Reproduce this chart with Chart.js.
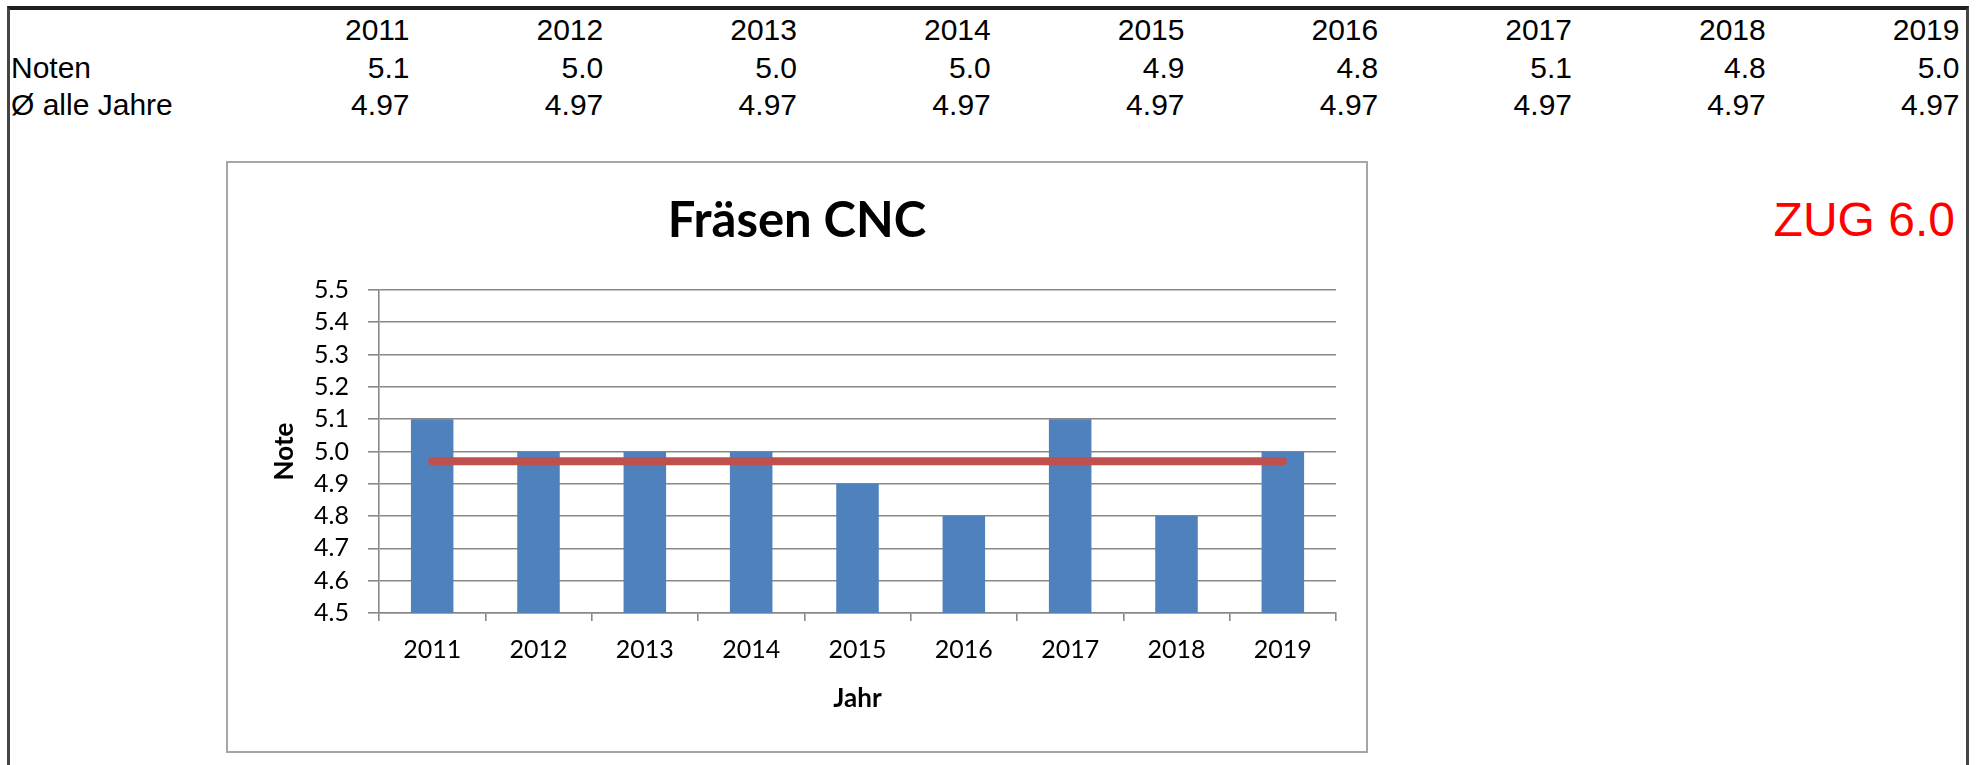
<!DOCTYPE html>
<html>
<head>
<meta charset="utf-8">
<script src="https://cdn.jsdelivr.net/npm/chart.js@4/dist/chart.umd.min.js"></script>
<style>
html,body{margin:0;padding:0;background:#fff;width:1985px;height:765px;overflow:hidden;}
#frame{position:absolute;left:7px;top:6px;width:1956px;height:800px;border-top:4px solid #1e1e1e;border-left:3px solid #444;border-right:3px solid #444;}
.t{position:absolute;font-family:"Liberation Sans",Arial,sans-serif;font-size:30px;line-height:30px;color:#000;white-space:nowrap;}
.r{text-align:right;width:150px;}
#box{position:absolute;left:226px;top:161px;width:1138px;height:588px;border:2px solid #a6a6a6;background:#fff;}
#zug{position:absolute;font-family:"Liberation Sans",Arial,sans-serif;font-size:48px;line-height:48px;color:#ff0000;white-space:nowrap;text-align:right;width:300px;left:1655px;top:196px;}
canvas{display:block;}
</style>
</head>
<body>
<div id="frame"></div>
<div id="table"></div>
<div id="zug">ZUG 6.0</div>
<div id="box"><canvas id="c" width="1138" height="588"></canvas></div>
<script>
// ---- data ----
const years = ['2011','2012','2013','2014','2015','2016','2017','2018','2019'];
const noten = [5.1, 5.0, 5.0, 5.0, 4.9, 4.8, 5.1, 4.8, 5.0];
const avgAll = [4.97, 4.97, 4.97, 4.97, 4.97, 4.97, 4.97, 4.97, 4.97];
const rowLabels = ['Noten', 'Ø alle Jahre'];
const chartTitle = 'Fräsen CNC';
const xTitle = 'Jahr';
const yTitle = 'Note';
const yMin = 4.5, yMax = 5.5, yStep = 0.1;

// ---- table above the chart ----
const table = document.getElementById('table');
function addText(txt, left, top, right) {
  const d = document.createElement('div');
  d.className = 't' + (right ? ' r' : '');
  d.textContent = txt;
  d.style.left = left + 'px';
  d.style.top = top + 'px';
  table.appendChild(d);
}
const rowTops = [15, 53, 90];
years.forEach((y, i) => {
  const rightEdge = 409.5 + i * 193.75;
  addText(y, rightEdge - 150, rowTops[0], true);
  addText(noten[i].toFixed(1), rightEdge - 150, rowTops[1], true);
  addText(avgAll[i].toFixed(2), rightEdge - 150, rowTops[2], true);
});
addText(rowLabels[0], 11, rowTops[1], false);
addText(rowLabels[1], 11, rowTops[2], false);

// ---- chart ----
const gridColor = '#888888';
function draw() {
  new Chart(document.getElementById('c'), {
    type: 'bar',
    data: {
      labels: years,
      datasets: [
        {type: 'line', data: avgAll, borderColor: '#C0504D', backgroundColor: '#C0504D', borderWidth: 8,
         pointRadius: 0, pointHoverRadius: 0, borderCapStyle: 'round', fill: false, tension: 0, order: 0},
        {type: 'bar', data: noten, backgroundColor: '#4F81BD', borderWidth: 0,
         categoryPercentage: 1, barPercentage: 0.4, order: 1}
      ]
    },
    options: {
      responsive: false, animation: false, devicePixelRatio: 1,
      layout: {padding: {left: 30, right: 30, top: 0, bottom: 0}},
      plugins: {
        legend: {display: false},
        tooltip: {enabled: false},
        title: {display: true, text: chartTitle, color: '#000',
                font: {family: 'Lato', size: 49, weight: 'bold', lineHeight: 1.2},
                padding: {top: 28.6, bottom: 39.6}}
      },
      scales: {
        x: {
          grid: {display: true, drawOnChartArea: false, drawTicks: true, tickLength: 8,
                 color: gridColor, lineWidth: 1.6, offset: true},
          border: {display: true, color: gridColor, width: 1.6},
          ticks: {color: '#000', font: {family: 'Lato', size: 25}, padding: 14, maxRotation: 0},
          title: {display: true, text: xTitle, color: '#000',
                  font: {family: 'Lato', size: 26, weight: 'bold', lineHeight: 1.2},
                  padding: {top: 0, bottom: 37}},
          afterFit(s) { s.height = 138; }
        },
        y: {
          min: yMin, max: yMax,
          ticks: {stepSize: yStep, autoSkip: false, callback: v => Number(v).toFixed(1),
                  color: '#000', font: {family: 'Lato', size: 25}, padding: 19},
          grid: {color: gridColor, lineWidth: 1.6, tickLength: 11},
          border: {display: true, color: gridColor, width: 1.6},
          title: {display: true, text: yTitle, color: '#000',
                  font: {family: 'Lato', size: 26, weight: 'bold', lineHeight: 1.2},
                  padding: {top: 11.4, bottom: 0}},
          afterFit(s) { s.width = 121; }
        }
      }
    }
  });
}
Promise.all([
  document.fonts.load('bold 49px Lato'),
  document.fonts.load('25px Lato')
]).then(draw, draw);
</script>
</body>
</html>
